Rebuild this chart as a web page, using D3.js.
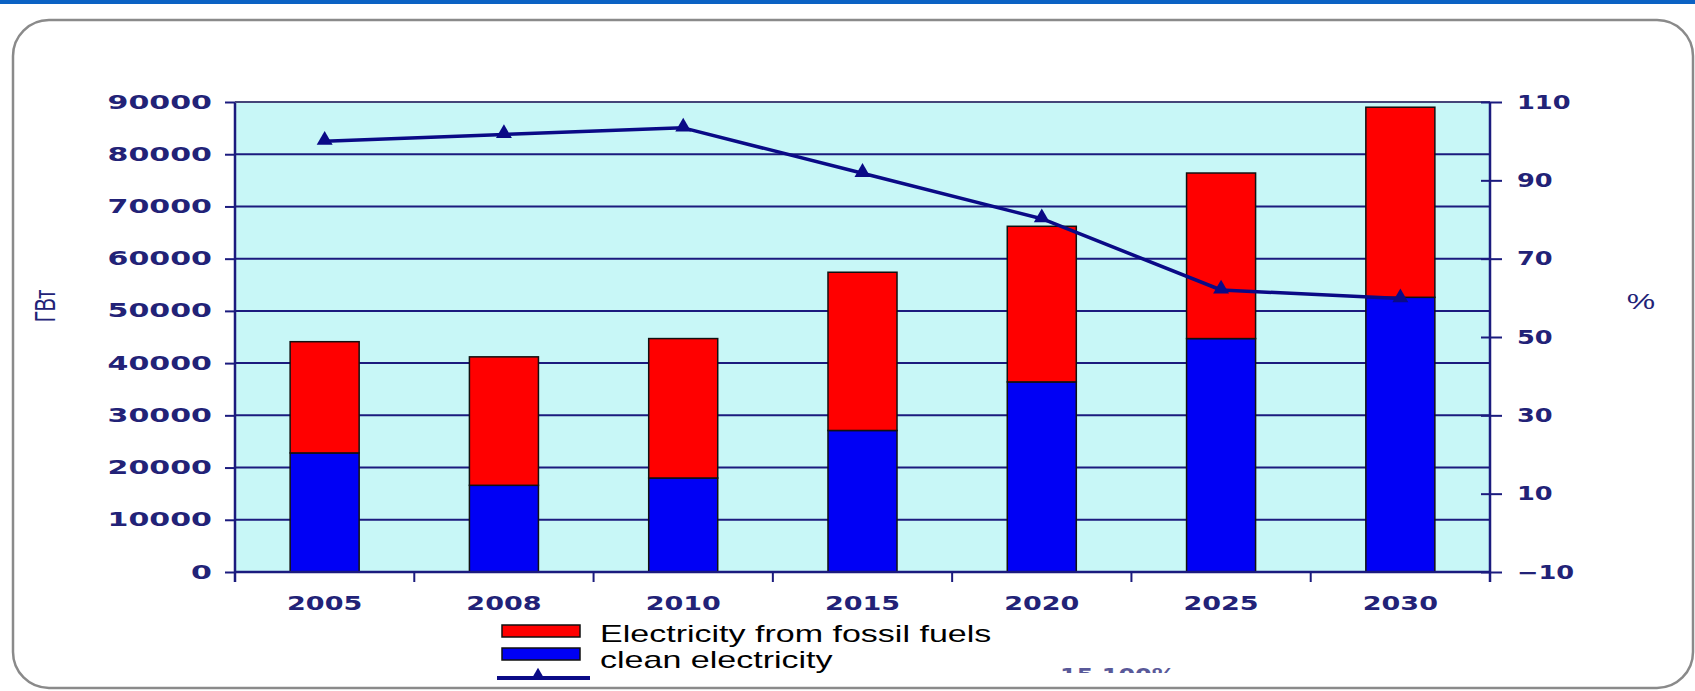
<!DOCTYPE html>
<html>
<head>
<meta charset="utf-8">
<script src="https://cdn.jsdelivr.net/npm/d3@7"></script>
<style>
  body { margin: 0; background: #ffffff; }
  svg { display: block; }
</style>
</head>
<body>
<svg id="chart" width="1695" height="691"></svg>
<script>
// ---- data ----
const categories = ["2005", "2008", "2010", "2015", "2020", "2025", "2030"];
const cleanElectricity = [22800, 16600, 18000, 27100, 36400, 44700, 52600];
const fossilElectricity = [21300, 24600, 26700, 30300, 29800, 31700, 36400];
const sharePercent = [100, 101.7, 103.4, 91.8, 80.2, 62, 59.8];
const leftTicks = [0, 10000, 20000, 30000, 40000, 50000, 60000, 70000, 80000, 90000];
const rightTicks = [-10, 10, 30, 50, 70, 90, 110];
const seriesNames = ["Electricity from fossil fuels", "clean electricity"];
const leftTitle = "ГВт";
const rightTitle = "%";

// ---- layout ----
const W = 1695, H = 691;
const L = 235, R = 1490, T = 102, B = 572;
const NAVY = "#1b1b7e";
const LABEL = "#222277";

const svg = d3.select("#chart");

// stretch a text horizontally around its anchor point
function stretch(sel, sx) {
  sel.each(function () {
    const t = d3.select(this);
    const x = +t.attr("x") || 0;
    const y = +t.attr("y") || 0;
    t.attr("x", 0).attr("y", 0)
     .attr("transform", `translate(${x},${y}) scale(${sx},1)`);
  });
}

// page band and rounded frame
svg.append("rect").attr("x", 0).attr("y", 0).attr("width", W).attr("height", 4)
  .attr("fill", "#0b62c4");
svg.append("rect").attr("x", 13).attr("y", 20).attr("width", 1680).attr("height", 668)
  .attr("rx", 36).attr("ry", 36)
  .attr("fill", "#ffffff").attr("stroke", "#8a8a8a").attr("stroke-width", 2.5);

// scales
const x = d3.scaleBand().domain(categories).range([L, R])
  .paddingInner(0.615).paddingOuter(0.3075);
const yL = d3.scaleLinear().domain([0, 90000]).range([B, T]);
const yR = d3.scaleLinear().domain([-10, 110]).range([B, T]);

// plot background
svg.append("rect").attr("x", L).attr("y", T).attr("width", R - L).attr("height", B - T)
  .attr("fill", "#c8f7f7");

// horizontal gridlines
svg.append("g").selectAll("line").data(leftTicks.filter(d => d > 0)).join("line")
  .attr("x1", L).attr("x2", R)
  .attr("y1", d => yL(d)).attr("y2", d => yL(d))
  .attr("stroke", NAVY).attr("stroke-width", 2);

// stacked bars
const stacked = categories.map((c, i) => ({
  cat: c,
  clean: cleanElectricity[i],
  fossil: fossilElectricity[i]
}));
const gBars = svg.append("g");
gBars.selectAll("rect.clean").data(stacked).join("rect")
  .attr("class", "clean")
  .attr("x", d => x(d.cat)).attr("width", x.bandwidth())
  .attr("y", d => yL(d.clean)).attr("height", d => yL(0) - yL(d.clean))
  .attr("fill", "#0000f5").attr("stroke", "#111111").attr("stroke-width", 1.5);
gBars.selectAll("rect.fossil").data(stacked).join("rect")
  .attr("class", "fossil")
  .attr("x", d => x(d.cat)).attr("width", x.bandwidth())
  .attr("y", d => yL(d.clean + d.fossil)).attr("height", d => yL(d.clean) - yL(d.clean + d.fossil))
  .attr("fill", "#ff0000").attr("stroke", "#111111").attr("stroke-width", 1.5);

// axis lines (extend a little below the plot)
svg.append("line").attr("x1", L).attr("x2", L).attr("y1", T).attr("y2", B + 10)
  .attr("stroke", NAVY).attr("stroke-width", 2.5);
svg.append("line").attr("x1", R).attr("x2", R).attr("y1", T).attr("y2", B + 10)
  .attr("stroke", NAVY).attr("stroke-width", 2.5);
svg.append("line").attr("x1", L).attr("x2", R).attr("y1", B).attr("y2", B)
  .attr("stroke", NAVY).attr("stroke-width", 2.5);
svg.append("line").attr("x1", L).attr("x2", R).attr("y1", T).attr("y2", T)
  .attr("stroke", "#555577").attr("stroke-width", 1.5);

// left axis
const axL = svg.append("g").attr("transform", `translate(${L},0)`)
  .call(d3.axisLeft(yL).tickValues(leftTicks).tickFormat(d3.format("d"))
    .tickSize(10).tickPadding(13));
axL.select(".domain").remove();
axL.selectAll(".tick line").attr("stroke", NAVY).attr("stroke-width", 2);
axL.selectAll(".tick text")
  .attr("fill", LABEL).attr("font-family", "DejaVu Sans").attr("font-weight", "bold")
  .attr("font-size", 19).call(stretch, 1.58);

// right axis
const axR = svg.append("g").attr("transform", `translate(${R},0)`)
  .call(d3.axisRight(yR).tickValues(rightTicks).tickFormat(d => d < 0 ? "\u2212" + Math.abs(d) : d)
    .tickSize(12).tickPadding(15));
axR.select(".domain").remove();
axR.selectAll(".tick line").attr("x1", -9).attr("stroke", NAVY).attr("stroke-width", 2);
axR.selectAll(".tick text")
  .attr("fill", LABEL).attr("font-family", "DejaVu Sans").attr("font-weight", "bold")
  .attr("font-size", 19).call(stretch, 1.35);

// category axis: boundary ticks and labels
svg.append("g").selectAll("line").data(d3.range(1, categories.length)).join("line")
  .attr("x1", k => L + k * x.step()).attr("x2", k => L + k * x.step())
  .attr("y1", B).attr("y2", B + 10)
  .attr("stroke", NAVY).attr("stroke-width", 2);
svg.append("g").selectAll("text").data(categories).join("text")
  .attr("x", d => x(d) + x.bandwidth() / 2).attr("y", 610)
  .attr("text-anchor", "middle")
  .attr("fill", LABEL).attr("font-family", "DejaVu Sans").attr("font-weight", "bold")
  .attr("font-size", 20)
  .text(d => d)
  .call(stretch, 1.35);

// share line with triangle markers
const linePts = categories.map((c, i) => [x(c) + x.bandwidth() / 2, yR(sharePercent[i])]);
svg.append("path").datum(linePts)
  .attr("d", d3.line())
  .attr("fill", "none").attr("stroke", "#0a0a86").attr("stroke-width", 3.5)
  .attr("stroke-linejoin", "round");
const tri = d3.symbol().type(d3.symbolTriangle).size(110);
svg.append("g").selectAll("path").data(linePts).join("path")
  .attr("transform", d => `translate(${d[0]},${d[1] - 1})`)
  .attr("d", tri())
  .attr("fill", "#0a0a86");

// axis titles
svg.append("text")
  .attr("transform", "translate(55,306) scale(1.5,1) rotate(-90)")
  .attr("text-anchor", "middle")
  .attr("fill", LABEL).attr("font-family", "Liberation Sans").attr("font-size", 20)
  .text(leftTitle);
svg.append("text")
  .attr("x", 1641).attr("y", 309)
  .attr("text-anchor", "middle")
  .attr("fill", LABEL).attr("font-family", "Liberation Sans").attr("font-size", 22)
  .text(rightTitle)
  .call(stretch, 1.45);

// legend
const legend = svg.append("g");
const swatchColors = ["#ff0000", "#0000f5"];
legend.selectAll("rect").data(seriesNames).join("rect")
  .attr("x", 502).attr("width", 78)
  .attr("y", (d, i) => 625 + i * 23).attr("height", 12)
  .attr("fill", (d, i) => swatchColors[i])
  .attr("stroke", "#111111").attr("stroke-width", 1.5);
legend.selectAll("text").data(seriesNames).join("text")
  .attr("x", 600).attr("y", (d, i) => 642 + i * 26)
  .attr("fill", "#000000").attr("font-family", "Liberation Sans").attr("font-size", 23)
  .text(d => d)
  .call(stretch, 1.48);
legend.append("line").attr("x1", 497).attr("x2", 590).attr("y1", 678).attr("y2", 678)
  .attr("stroke", "#0a0a86").attr("stroke-width", 4);
legend.append("path").attr("transform", "translate(538,675)")
  .attr("d", d3.symbol().type(d3.symbolTriangle).size(70)())
  .attr("fill", "#0a0a86");

// third legend entry, mostly hidden below the frame edge
svg.append("clipPath").attr("id", "cut")
  .append("rect").attr("x", 1040).attr("y", 662).attr("width", 180).attr("height", 11);
svg.append("g").attr("clip-path", "url(#cut)")
  .append("text")
  .attr("x", 1060).attr("y", 682)
  .attr("fill", LABEL).attr("opacity", 0.75)
  .attr("font-family", "DejaVu Sans").attr("font-weight", "bold").attr("font-size", 20)
  .text("15  100%")
  .call(stretch, 1.2);
</script>
</body>
</html>
